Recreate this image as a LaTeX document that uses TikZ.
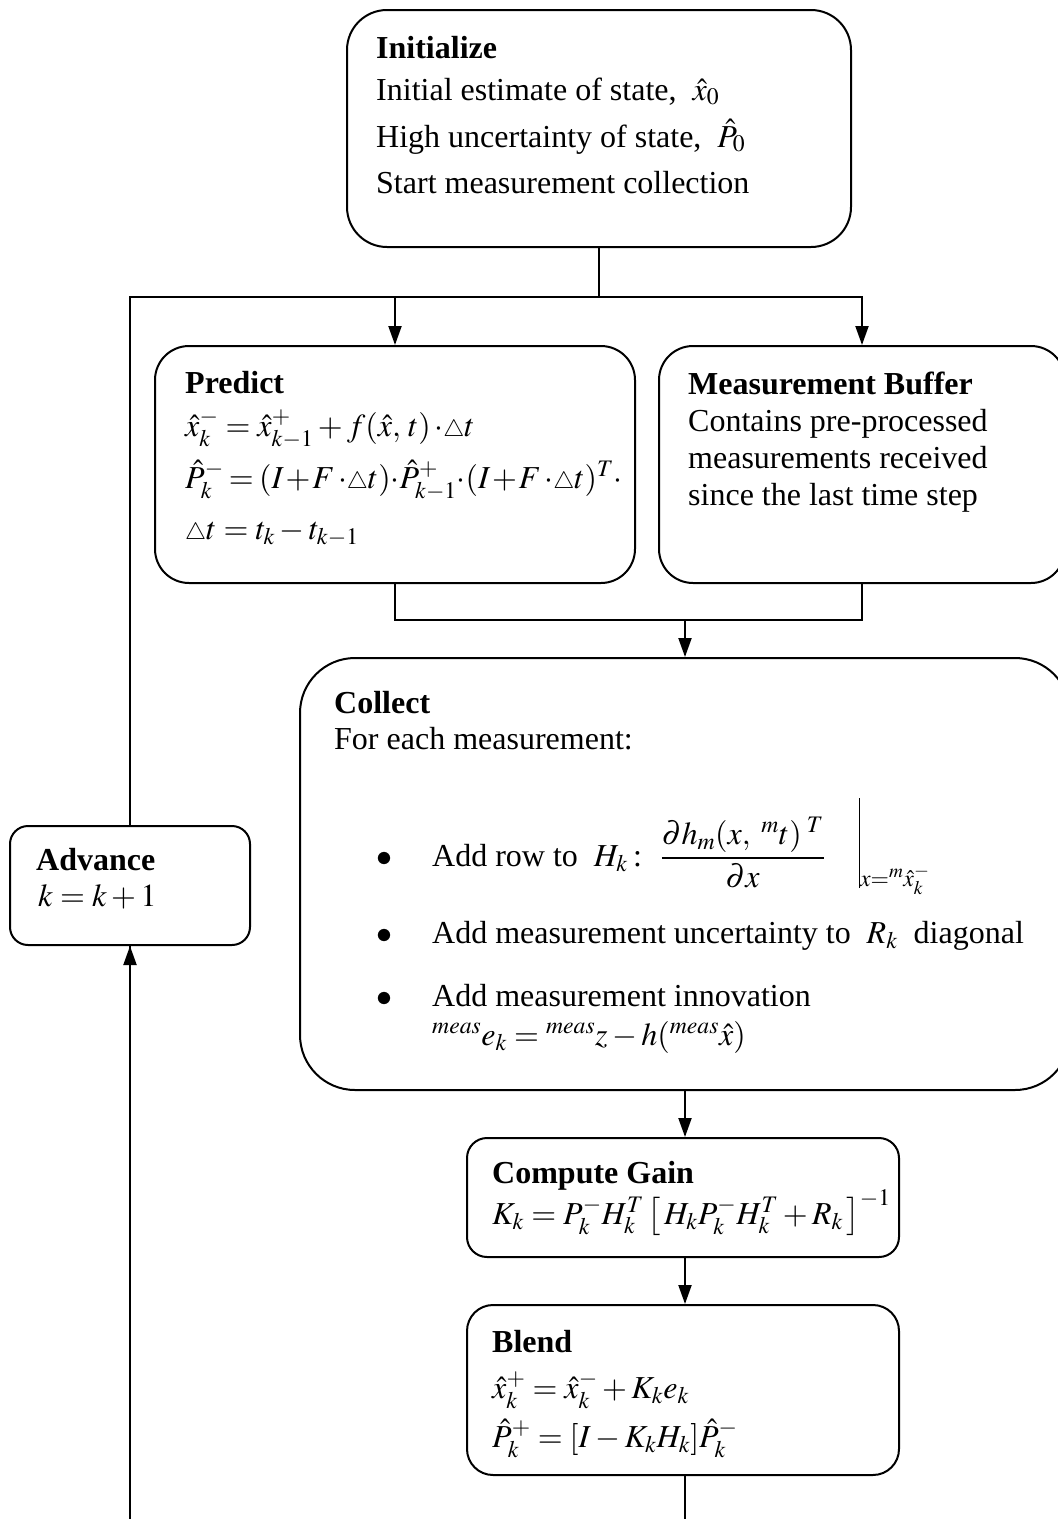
\documentclass[tikz,border=0pt]{standalone}
\usepackage{mathptmx}
\usepackage{fontspec}
\setmainfont{Liberation Serif}
\usetikzlibrary{arrows.meta}
\begin{document}
\begin{tikzpicture}[x=1pt,y=-1pt,
  box/.style={draw, line width=2pt, inner sep=0pt},
  txt/.style={anchor=base west, inner sep=0pt, font=\fontsize{32}{38}\selectfont},
  ttl/.style={txt, font=\fontsize{32}{38}\selectfont\bfseries},
  conn/.style={line width=2pt},
  arr/.style={conn, -{Triangle[length=19pt,width=13pt]}}]
\useasboundingbox (0,0) rectangle (1058,1519);
\clip (0,0) rectangle (1058,1519);
\newcommand{\dlt}{{\scriptstyle\triangle}}
\newcommand{\cdd}{{\cdot}}
% boxes
\node[box, rounded corners=40pt, minimum width=504pt, minimum height=237pt] (init) at (599,128.5) {};
\node[box, rounded corners=34pt, minimum width=480pt, minimum height=237pt] (pred) at (395,464.5) {};
\node[box, rounded corners=34pt, minimum width=406pt, minimum height=237pt] (buf) at (862,464.5) {};
\node[box, rounded corners=55pt, minimum width=770pt, minimum height=432pt] (coll) at (685,874) {};
\node[box, rounded corners=20pt, minimum width=432pt, minimum height=119pt] (gain) at (683,1197.5) {};
\node[box, rounded corners=26pt, minimum width=432pt, minimum height=170pt] (blend) at (683,1390) {};
\node[box, rounded corners=18pt, minimum width=240pt, minimum height=119pt] (adv) at (130,885.5) {};
% Initialize text
\node[ttl] (i0) at (376,58) {Initialize};
\node[txt] (i1) at (376,100) {Initial estimate of state, \ $\hat{x}_0$};
\node[txt] (i2) at (376,147) {High uncertainty of state, \ $\hat{P}_0$};
\node[txt] (i3) at (376,193) {Start measurement collection};
% Predict text
\node[ttl] (p0) at (185,393) {Predict};
\node[txt] (p1) at (185,436) {$\hat{x}_k^- = \hat{x}_{k-1}^+ + f(\hat{x},\,t)\,\cdd\dlt t$};
\node[txt] (p2) at (185,488) {\medmuskip=1mu \thickmuskip=3mu $\hat{P}_k^- = (I + F\,\cdd\dlt t)\cdd\hat{P}_{k-1}^+\cdd(I + F\,\cdd\dlt t)^T\cdd$};
\node[txt] (p3) at (185,539) {$\dlt t = t_k - t_{k-1}$};
% Buffer text
\node[ttl] (b0) at (688,394) {Measurement Buffer};
\node[txt] (b1) at (688,431) {Contains pre-processed};
\node[txt] (b2) at (688,468) {measurements received};
\node[txt] (b3) at (688,505) {since the last time step};
% Collect text
\node[ttl] (c0) at (334,713) {Collect};
\node[txt] (c1) at (334,749) {For each measurement:};
\node[txt] (c2d) at (376,866) {$\bullet$};
\node[txt] (c2) at (432,866) {Add row to \ $H_k$\,: \ $\displaystyle\frac{\partial h_m(x,\;{}^m t)^{\;T}}{\partial x}\hspace{34pt}\rule[-22pt]{1.3pt}{90pt}\raisebox{-20pt}{$\scriptstyle x={}^m\hat{x}_k^-$}$};
\node[txt] (c3d) at (376,943) {$\bullet$};
\node[txt] (c3) at (432,943) {Add measurement uncertainty to \ $R_k$ \ diagonal};
\node[txt] (c4d) at (376,1006) {$\bullet$};
\node[txt] (c4) at (432,1006) {Add measurement innovation};
\node[txt] (c5) at (432,1045) {${}^{meas}e_k = {}^{meas}z - h({}^{meas}\hat{x})$};
% Gain text
\node[ttl] (g0) at (492,1183) {Compute Gain};
\node[txt] (g1) at (492,1224) {$K_k = P_k^- H_k^T \left[\, H_k P_k^- H_k^T + R_k \,\right]^{-1}$};
% Blend text
\node[ttl] (l0) at (492,1352) {Blend};
\node[txt] (l1) at (492,1398) {$\hat{x}_k^+ = \hat{x}_k^- + K_k e_k$};
\node[txt] (l2) at (492,1447) {$\hat{P}_k^+ = [I - K_k H_k]\hat{P}_k^-$};
% Advance text
\node[ttl] (a0) at (36,870) {Advance};
\node[txt] (a1) at (38,906) {$k = k+1$};
% connectors
\coordinate (j1) at (598,297);
\coordinate (j2) at (685,620);
\draw[conn] (init.south) -- (init.south |- j1);
\draw[arr] (adv.north) |- (buf.north |- j1) -- (buf.north);
\draw[arr] (pred.north |- j1) -- (pred.north);
\draw[conn] (pred.south) |- (j2) -| (buf.south);
\draw[arr] (j2) -- (j2 |- coll.north);
\draw[arr] (coll.south) -- (coll.south |- gain.north);
\draw[arr] (coll.south |- gain.south) -- (coll.south |- blend.north);
\draw[conn] (coll.south |- blend.south) -- ++(0,80) -| (adv.south);
\draw[arr] (adv.south |- 0,1519) -- (adv.south);
\end{tikzpicture}
\end{document}
